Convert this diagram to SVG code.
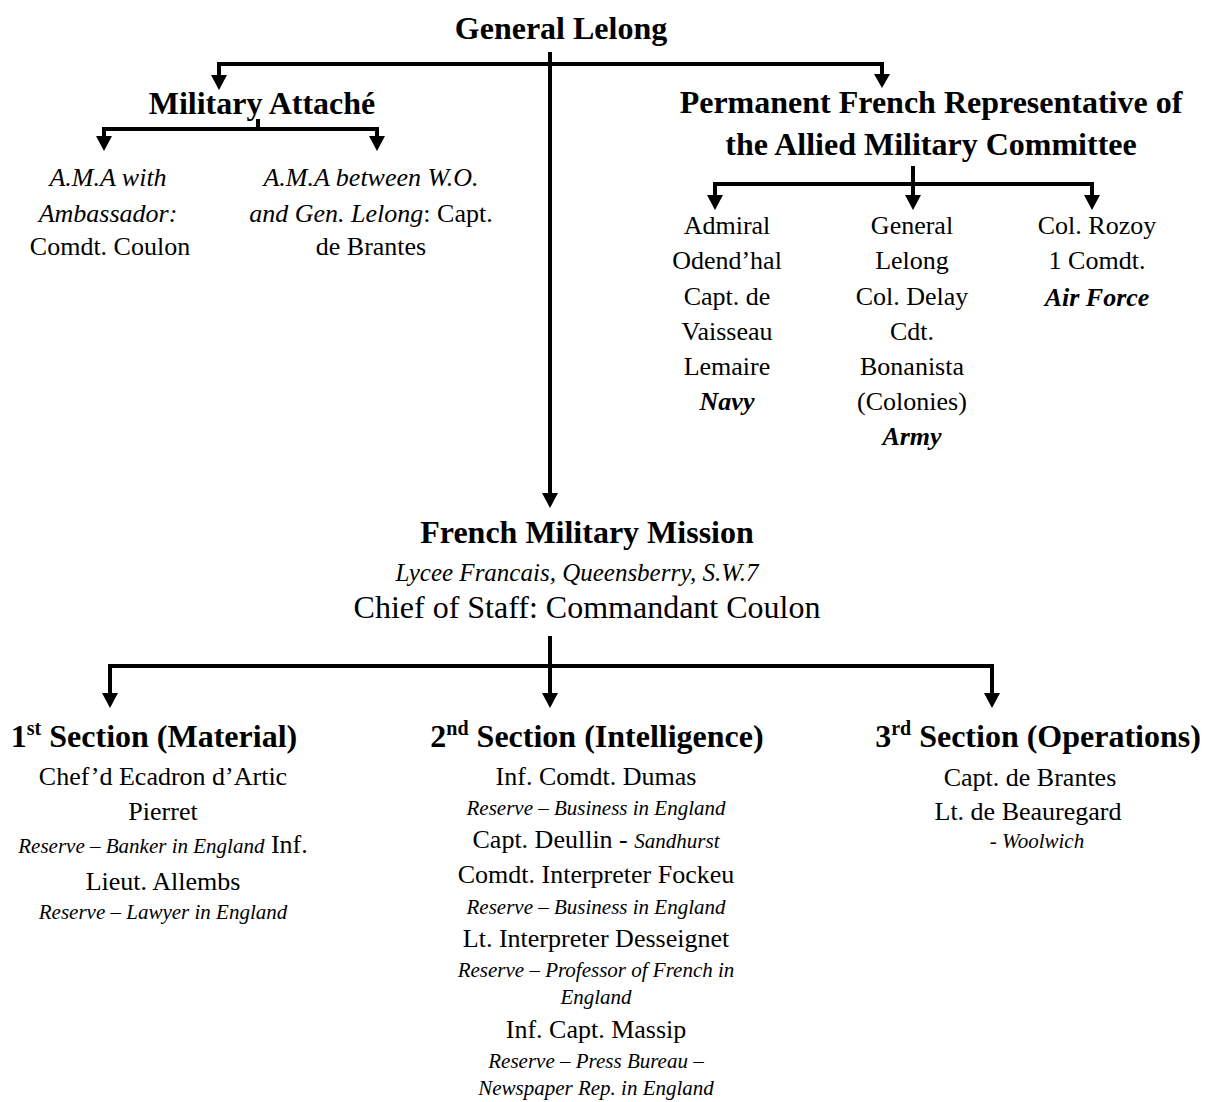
<svg xmlns="http://www.w3.org/2000/svg" width="1206" height="1102" viewBox="0 0 1206 1102">
<defs>
<style>
text{font-family:"Liberation Serif","Times New Roman",serif;fill:#000;text-anchor:middle}
.h{font-weight:bold;font-size:32px}
.b{font-size:26px}
.i{font-style:italic}
.s{font-size:21px;font-style:italic}
.bi{font-weight:bold;font-style:italic;font-size:26px}
.ln{stroke:#000;stroke-width:4;fill:none}
.ah{fill:#000}
</style>
</defs>
<rect width="1206" height="1102" fill="#fff"/>
<g id="connectors">
<path class="ln" d="M550 52V495"/>
<path class="ln" d="M219 64H882M219 62V78M882 62V76"/>
<path class="ln" d="M258 119V129M104 129H377M104 127V138M377 127V138"/>
<path class="ln" d="M913 166V196M715 184H1092M715 182V198M1092 182V198"/>
<path class="ln" d="M550 636V696M110 666H992M110 664V696M992 664V696"/>
<polygon class="ah" points="211,75 227,75 219,90"/>
<polygon class="ah" points="874,74 890,74 882,88"/>
<polygon class="ah" points="96,136 112,136 104,151"/>
<polygon class="ah" points="369,136 385,136 377,151"/>
<polygon class="ah" points="707,195 723,195 715,210"/>
<polygon class="ah" points="905,195 921,195 913,210"/>
<polygon class="ah" points="1084,195 1100,195 1092,210"/>
<polygon class="ah" points="542,493 558,493 550,508"/>
<polygon class="ah" points="102,693 118,693 110,708"/>
<polygon class="ah" points="542,693 558,693 550,708"/>
<polygon class="ah" points="984,693 1000,693 992,708"/>
</g>
<g id="general-lelong"><text class="h" x="561" y="39">General Lelong</text></g>
<g id="military-attache"><text class="h" x="262" y="114">Military Attaché</text></g>
<g id="ama-ambassador">
<text class="b i" x="108" y="186">A.M.A with</text>
<text class="b i" x="108" y="222">Ambassador:</text>
<text class="b" x="110" y="255">Comdt. Coulon</text>
</g>
<g id="ama-wo">
<text class="b i" x="371" y="186">A.M.A between W.O.</text>
<text class="b" x="371" y="222"><tspan class="i">and Gen. Lelong</tspan>: Capt.</text>
<text class="b" x="371" y="255">de Brantes</text>
</g>
<g id="permanent-rep">
<text class="h" x="931" y="113">Permanent French Representative of</text>
<text class="h" x="931" y="155">the Allied Military Committee</text>
</g>
<g id="navy">
<text class="b" x="727" y="234">Admiral</text>
<text class="b" x="727" y="269">Odend’hal</text>
<text class="b" x="727" y="305">Capt. de</text>
<text class="b" x="727" y="340">Vaisseau</text>
<text class="b" x="727" y="375">Lemaire</text>
<text class="bi" x="727" y="410">Navy</text>
</g>
<g id="army">
<text class="b" x="912" y="234">General</text>
<text class="b" x="912" y="269">Lelong</text>
<text class="b" x="912" y="305">Col. Delay</text>
<text class="b" x="912" y="340">Cdt.</text>
<text class="b" x="912" y="375">Bonanista</text>
<text class="b" x="912" y="410">(Colonies)</text>
<text class="bi" x="912" y="445">Army</text>
</g>
<g id="air-force">
<text class="b" x="1097" y="234">Col. Rozoy</text>
<text class="b" x="1097" y="269">1 Comdt.</text>
<text class="bi" x="1097" y="306">Air Force</text>
</g>
<g id="french-military-mission">
<text class="h" x="587" y="543">French Military Mission</text>
<text class="i" x="577" y="581" font-size="25">Lycee Francais, Queensberry, S.W.7</text>
<text x="587" y="618" font-size="32">Chief of Staff: Commandant Coulon</text>
</g>
<g id="section-1">
<text class="h" x="154" y="747">1<tspan font-size="20" dy="-12">st</tspan><tspan dy="12"> Section (Material)</tspan></text>
<text class="b" x="163" y="785">Chef’d Ecadron d’Artic</text>
<text class="b" x="163" y="820">Pierret</text>
<text class="b" x="163" y="853"><tspan class="s">Reserve – Banker in England</tspan> Inf.</text>
<text class="b" x="163" y="890">Lieut. Allembs</text>
<text class="s" x="163" y="919">Reserve – Lawyer in England</text>
</g>
<g id="section-2">
<text class="h" x="597" y="747">2<tspan font-size="20" dy="-12">nd</tspan><tspan dy="12"> Section (Intelligence)</tspan></text>
<text class="b" x="596" y="785">Inf. Comdt. Dumas</text>
<text class="s" x="596" y="815">Reserve – Business in England</text>
<text class="b" x="596" y="848">Capt. Deullin - <tspan class="s">Sandhurst</tspan></text>
<text class="b" x="596" y="883">Comdt. Interpreter Fockeu</text>
<text class="s" x="596" y="914">Reserve – Business in England</text>
<text class="b" x="596" y="947">Lt. Interpreter Desseignet</text>
<text class="s" x="596" y="977">Reserve – Professor of French in</text>
<text class="s" x="596" y="1004">England</text>
<text class="b" x="596" y="1038">Inf. Capt. Massip</text>
<text class="s" x="596" y="1068">Reserve – Press Bureau –</text>
<text class="s" x="596" y="1095">Newspaper Rep. in England</text>
</g>
<g id="section-3">
<text class="h" x="1038" y="747">3<tspan font-size="20" dy="-12">rd</tspan><tspan dy="12"> Section (Operations)</tspan></text>
<text class="b" x="1030" y="786">Capt. de Brantes</text>
<text class="b" x="1028" y="820">Lt. de Beauregard</text>
<text x="1037" y="848" font-size="21"><tspan>- </tspan><tspan class="i">Woolwich</tspan></text>
</g>
</svg>
